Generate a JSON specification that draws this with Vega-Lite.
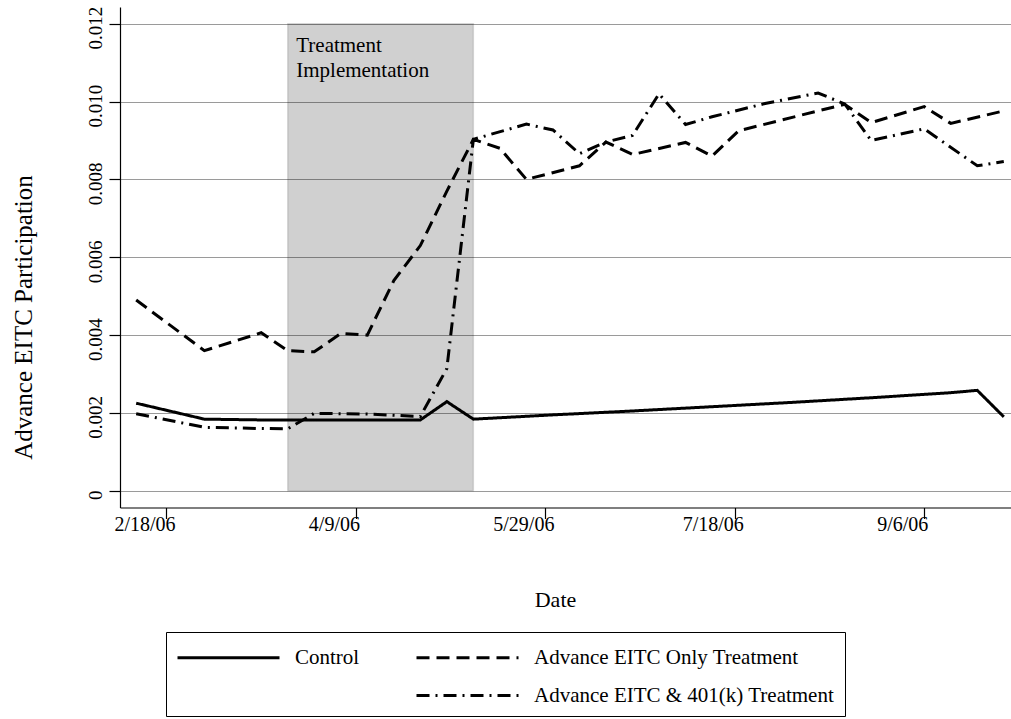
{
  "$schema": "https://vega.github.io/schema/vega-lite/v6.json",
  "width": 891,
  "height": 500.5,
  "autosize": {"type": "none"},
  "padding": {"left": 120, "top": 7, "right": 0, "bottom": 211.5},
  "background": "white",
  "config": {
    "font": "Liberation Serif",
    "view": {"stroke": null},
    "axis": {"domainColor": "#000", "domainWidth": 1.2, "tickColor": "#000", "tickWidth": 1.2, "labelColor": "#000", "titleColor": "#000", "titleFontWeight": "normal"},
    "legend": {"labelColor": "#000"}
  },
  "datasets": {
    "series": [
      {"date": "2006/02/10", "series": "Control", "value": 0.00225},
      {"date": "2006/02/28", "series": "Control", "value": 0.00184},
      {"date": "2006/03/15", "series": "Control", "value": 0.00182},
      {"date": "2006/03/22", "series": "Control", "value": 0.00182},
      {"date": "2006/03/29", "series": "Control", "value": 0.00182},
      {"date": "2006/04/05", "series": "Control", "value": 0.00182},
      {"date": "2006/04/12", "series": "Control", "value": 0.00182},
      {"date": "2006/04/19", "series": "Control", "value": 0.00182},
      {"date": "2006/04/26", "series": "Control", "value": 0.00182},
      {"date": "2006/05/03", "series": "Control", "value": 0.00229},
      {"date": "2006/05/10", "series": "Control", "value": 0.00184},
      {"date": "2006/05/31", "series": "Control", "value": 0.00195},
      {"date": "2006/06/21", "series": "Control", "value": 0.00205},
      {"date": "2006/07/12", "series": "Control", "value": 0.00216},
      {"date": "2006/08/02", "series": "Control", "value": 0.00227},
      {"date": "2006/08/23", "series": "Control", "value": 0.00239},
      {"date": "2006/09/13", "series": "Control", "value": 0.00252},
      {"date": "2006/09/20", "series": "Control", "value": 0.00258},
      {"date": "2006/09/27", "series": "Control", "value": 0.00190},

      {"date": "2006/02/10", "series": "Advance EITC Only Treatment", "value": 0.00490},
      {"date": "2006/02/28", "series": "Advance EITC Only Treatment", "value": 0.00360},
      {"date": "2006/03/15", "series": "Advance EITC Only Treatment", "value": 0.00406},
      {"date": "2006/03/22", "series": "Advance EITC Only Treatment", "value": 0.00360},
      {"date": "2006/03/29", "series": "Advance EITC Only Treatment", "value": 0.00357},
      {"date": "2006/04/05", "series": "Advance EITC Only Treatment", "value": 0.00404},
      {"date": "2006/04/12", "series": "Advance EITC Only Treatment", "value": 0.00400},
      {"date": "2006/04/19", "series": "Advance EITC Only Treatment", "value": 0.00540},
      {"date": "2006/04/26", "series": "Advance EITC Only Treatment", "value": 0.00630},
      {"date": "2006/05/03", "series": "Advance EITC Only Treatment", "value": 0.00770},
      {"date": "2006/05/10", "series": "Advance EITC Only Treatment", "value": 0.00903},
      {"date": "2006/05/17", "series": "Advance EITC Only Treatment", "value": 0.00880},
      {"date": "2006/05/24", "series": "Advance EITC Only Treatment", "value": 0.00800},
      {"date": "2006/06/07", "series": "Advance EITC Only Treatment", "value": 0.00835},
      {"date": "2006/06/14", "series": "Advance EITC Only Treatment", "value": 0.00896},
      {"date": "2006/06/21", "series": "Advance EITC Only Treatment", "value": 0.00864},
      {"date": "2006/07/05", "series": "Advance EITC Only Treatment", "value": 0.00895},
      {"date": "2006/07/12", "series": "Advance EITC Only Treatment", "value": 0.00860},
      {"date": "2006/07/19", "series": "Advance EITC Only Treatment", "value": 0.00925},
      {"date": "2006/08/16", "series": "Advance EITC Only Treatment", "value": 0.00993},
      {"date": "2006/08/23", "series": "Advance EITC Only Treatment", "value": 0.00946},
      {"date": "2006/09/06", "series": "Advance EITC Only Treatment", "value": 0.00987},
      {"date": "2006/09/13", "series": "Advance EITC Only Treatment", "value": 0.00944},
      {"date": "2006/09/27", "series": "Advance EITC Only Treatment", "value": 0.00976},

      {"date": "2006/02/10", "series": "Advance EITC & 401(k) Treatment", "value": 0.00198},
      {"date": "2006/02/28", "series": "Advance EITC & 401(k) Treatment", "value": 0.00163},
      {"date": "2006/03/15", "series": "Advance EITC & 401(k) Treatment", "value": 0.00160},
      {"date": "2006/03/22", "series": "Advance EITC & 401(k) Treatment", "value": 0.00159},
      {"date": "2006/03/29", "series": "Advance EITC & 401(k) Treatment", "value": 0.00199},
      {"date": "2006/04/05", "series": "Advance EITC & 401(k) Treatment", "value": 0.00198},
      {"date": "2006/04/12", "series": "Advance EITC & 401(k) Treatment", "value": 0.00197},
      {"date": "2006/04/19", "series": "Advance EITC & 401(k) Treatment", "value": 0.00194},
      {"date": "2006/04/26", "series": "Advance EITC & 401(k) Treatment", "value": 0.00191},
      {"date": "2006/05/03", "series": "Advance EITC & 401(k) Treatment", "value": 0.00314},
      {"date": "2006/05/10", "series": "Advance EITC & 401(k) Treatment", "value": 0.00903},
      {"date": "2006/05/24", "series": "Advance EITC & 401(k) Treatment", "value": 0.00942},
      {"date": "2006/05/31", "series": "Advance EITC & 401(k) Treatment", "value": 0.00927},
      {"date": "2006/06/07", "series": "Advance EITC & 401(k) Treatment", "value": 0.00866},
      {"date": "2006/06/14", "series": "Advance EITC & 401(k) Treatment", "value": 0.00896},
      {"date": "2006/06/21", "series": "Advance EITC & 401(k) Treatment", "value": 0.00913},
      {"date": "2006/06/28", "series": "Advance EITC & 401(k) Treatment", "value": 0.01020},
      {"date": "2006/07/05", "series": "Advance EITC & 401(k) Treatment", "value": 0.00941},
      {"date": "2006/07/12", "series": "Advance EITC & 401(k) Treatment", "value": 0.00961},
      {"date": "2006/07/26", "series": "Advance EITC & 401(k) Treatment", "value": 0.00995},
      {"date": "2006/08/09", "series": "Advance EITC & 401(k) Treatment", "value": 0.01022},
      {"date": "2006/08/16", "series": "Advance EITC & 401(k) Treatment", "value": 0.00994},
      {"date": "2006/08/23", "series": "Advance EITC & 401(k) Treatment", "value": 0.00900},
      {"date": "2006/09/06", "series": "Advance EITC & 401(k) Treatment", "value": 0.00930},
      {"date": "2006/09/20", "series": "Advance EITC & 401(k) Treatment", "value": 0.00835},
      {"date": "2006/09/27", "series": "Advance EITC & 401(k) Treatment", "value": 0.00846}
    ]
  },
  "layer": [
    {
      "data": {"name": "series"},
      "mark": {"type": "line", "strokeWidth": 3, "strokeCap": "butt", "strokeJoin": "miter"},
      "encoding": {
        "x": {
          "field": "date",
          "type": "temporal",
          "scale": {"domain": [{"year": 2006, "month": 2, "date": 5, "hours": 17, "minutes": 30}, {"year": 2006, "month": 9, "date": 28, "hours": 21, "minutes": 40}], "nice": false},
          "axis": {
            "values": [{"year": 2006, "month": 2, "date": 18}, {"year": 2006, "month": 4, "date": 9}, {"year": 2006, "month": 5, "date": 29}, {"year": 2006, "month": 7, "date": 18}, {"year": 2006, "month": 9, "date": 6}],
            "format": "%-m/%-d/%y",
            "title": "Date",
            "grid": false,
            "tickSize": 11,
            "labelFontSize": 20,
            "titleFontSize": 22,
            "labelPadding": -4,
            "labelOffset": -22,
            "titlePadding": 55,
            "titleX": 435,
            "titleAlign": "center",
            "labelFlush": false,
            "labelOverlap": false
          }
        },
        "y": {
          "field": "value",
          "type": "quantitative",
          "scale": {"domain": [-0.00043, 0.01243], "nice": false, "zero": false},
          "axis": {
            "values": [0, 0.002, 0.004, 0.006, 0.008, 0.01, 0.012],
            "labelExpr": "datum.value == 0 ? '0' : format(datum.value, '.3f')",
            "title": "Advance EITC Participation",
            "grid": true,
            "gridColor": "#9a9a9a",
            "gridWidth": 1,
            "tickSize": 11,
            "labelFontSize": 19,
            "labelAngle": -90,
            "labelAlign": "center",
            "labelBaseline": "alphabetic",
            "labelPadding": 8,
            "labelOffset": 4,
            "titleFontSize": 25,
            "titleAngle": -90,
            "titleAlign": "center",
            "titleBaseline": "middle",
            "titleX": -97,
            "titleY": 310
          }
        },
        "color": {
          "field": "series",
          "type": "nominal",
          "scale": {"domain": ["Control", "Advance EITC Only Treatment", " ", "Advance EITC & 401(k) Treatment"], "range": ["#000000", "#000000", "transparent", "#000000"]},
          "legend": {
            "orient": "none",
            "legendX": 46,
            "legendY": 625,
            "direction": "horizontal",
            "columns": 2,
            "title": null,
            "symbolType": "M-1,0H6.286",
            "symbolSize": 784,
            "symbolStrokeWidth": 3,
            "labelFontSize": 21,
            "labelOffset": 88,
            "columnPadding": 50,
            "rowPadding": 12,
            "padding": 10,
            "strokeColor": "#000",
            "labelLimit": 400,
            "gridAlign": "each"
          }
        },
        "strokeDash": {
          "field": "series",
          "type": "nominal",
          "scale": {"domain": ["Control", "Advance EITC Only Treatment", " ", "Advance EITC & 401(k) Treatment"], "range": [[1, 0], [13, 7], [1, 0], [13, 6, 2, 6]]},
          "legend": {
            "orient": "none",
            "legendX": 46,
            "legendY": 625,
            "direction": "horizontal",
            "columns": 2,
            "title": null,
            "symbolType": "M-1,0H6.286",
            "symbolSize": 784,
            "symbolStrokeWidth": 3,
            "labelFontSize": 21,
            "labelOffset": 88,
            "columnPadding": 50,
            "rowPadding": 12,
            "padding": 10,
            "strokeColor": "#000",
            "labelLimit": 400,
            "gridAlign": "each"
          }
        }
      }
    },
    {
      "data": {"values": [{"start": "2006/03/22", "end": "2006/05/10", "period": "Treatment Implementation"}]},
      "mark": {"type": "rect", "fill": "#000", "fillOpacity": 0.185, "stroke": "#000", "strokeOpacity": 0.12, "strokeWidth": 1.5},
      "encoding": {
        "x": {"field": "start", "type": "temporal"},
        "x2": {"field": "end"},
        "y": {"datum": 0, "type": "quantitative"},
        "y2": {"datum": 0.012}
      }
    },
    {
      "data": {"values": [{"start": "2006/03/22", "label": "Treatment Implementation"}]},
      "mark": {"type": "text", "align": "left", "baseline": "alphabetic", "fontSize": 21, "lineHeight": 25, "dx": 8.5, "dy": 28, "color": "#000"},
      "encoding": {
        "x": {"field": "start", "type": "temporal"},
        "y": {"datum": 0.012, "type": "quantitative"},
        "text": {"value": ["Treatment", "Implementation"]}
      }
    }
  ]
}
